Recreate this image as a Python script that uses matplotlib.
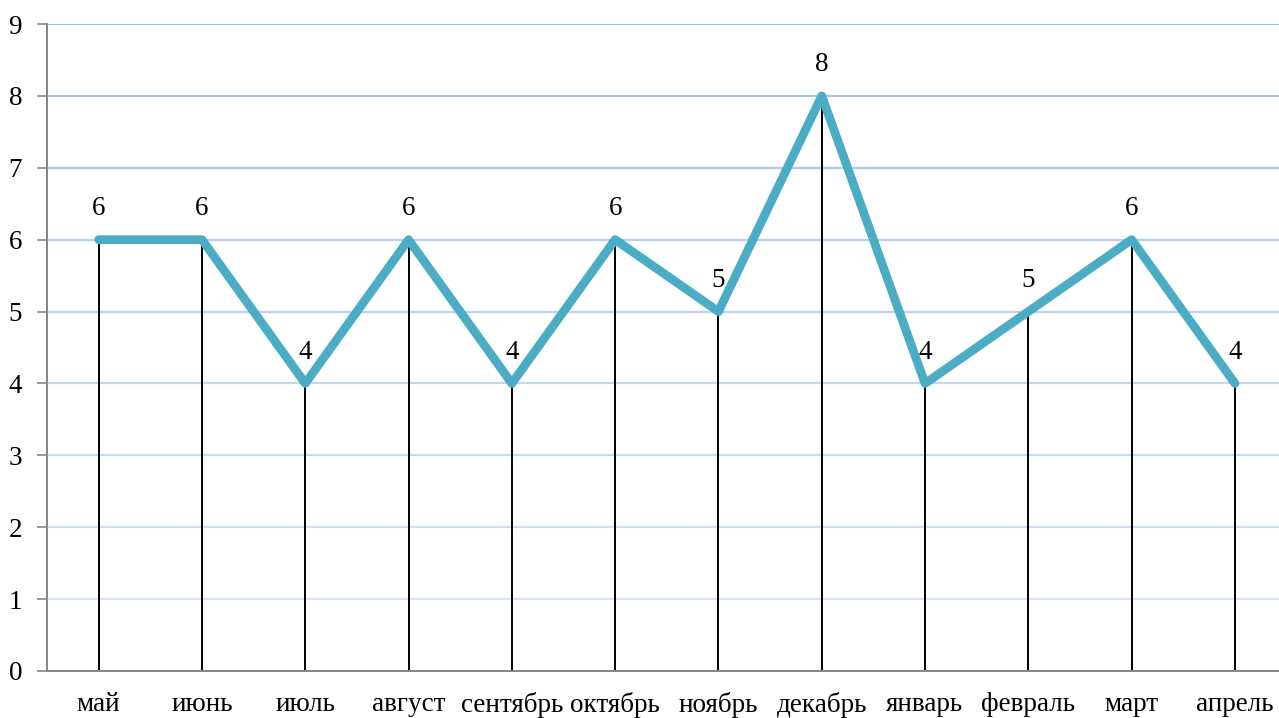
import matplotlib.pyplot as plt
import numpy as np

months = ['май', 'июнь', 'июль', 'август', 'сентябрь', 'октябрь', 'ноябрь',
          'декабрь', 'январь', 'февраль', 'март', 'апрель']
values = [6, 6, 4, 6, 4, 6, 5, 8, 4, 5, 6, 4]
y_ticks = list(range(0, 10))

plt.rcParams['font.family'] = ['Liberation Serif', 'DejaVu Serif']
plt.rcParams['font.size'] = 19.5

fig = plt.figure(figsize=(12.79, 7.18), dpi=100)
ax = fig.add_axes([47 / 1279, 1 - 671 / 718, (1286.6 - 47) / 1279, (671 - 24) / 718])

x = np.arange(len(months))

# gridlines fade from blue at the top to pale at the bottom
grid_top = np.array([0.64, 0.75, 0.92])
grid_bottom = np.array([0.87, 0.91, 0.97])
for t in y_ticks[1:]:
    f = t / 9
    c = grid_bottom + (grid_top - grid_bottom) * f
    ax.axhline(t, color=c, linewidth=1.6, zorder=0)

ax.vlines(x, 0, values, color='black', linewidth=1.4, zorder=2)
ax.plot(x, values, color='#4bacc6', linewidth=6.3, solid_capstyle='round',
        solid_joinstyle='round', zorder=3)

for xi, v in zip(x, values):
    ax.annotate(str(v), (xi, v), xytext=(0, 22.5), textcoords='offset points',
                ha='center', va='center')

ax.set_xlim(-0.5, 11.5)
ax.set_ylim(0, 9)
ax.set_yticks(y_ticks)
ax.set_xticks(x)
ax.set_xticklabels(months)
ax.tick_params(axis='x', length=0, pad=15)
ax.tick_params(axis='y', length=7, width=1.2, color='#868686', pad=11)

for side in ['top', 'right']:
    ax.spines[side].set_visible(False)
for side in ['left', 'bottom']:
    ax.spines[side].set_color('#868686')
    ax.spines[side].set_linewidth(1.4)

fig.savefig('out.png', dpi=100)
